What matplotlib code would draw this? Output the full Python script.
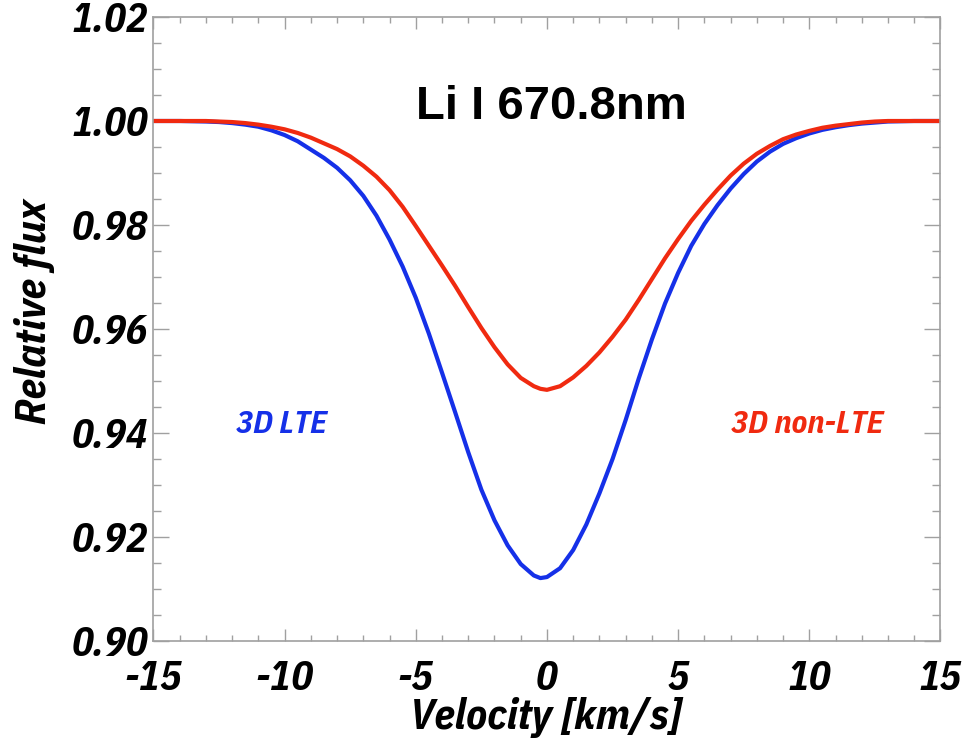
import numpy as np
import matplotlib
matplotlib.use('Agg')
import matplotlib.pyplot as plt
from matplotlib.ticker import MultipleLocator, FormatStrFormatter

plt.rcParams['axes.unicode_minus'] = False

# velocity grid [km/s] and fluxes
velocity = [-15, -14, -13, -12.5, -12, -11.5, -11, -10.5, -10, -9.5, -9, -8.5, -8,
            -7.5, -7, -6.5, -6, -5.5, -5, -4.5, -4, -3.5, -3, -2.5, -2, -1.5, -1,
            -0.5, -0.25, 0, 0.5, 1, 1.5, 2, 2.5, 3, 3.5, 4, 4.5, 5, 5.5, 6, 6.5, 7,
            7.5, 8, 8.5, 9, 9.5, 10, 10.5, 11, 11.5, 12, 12.5, 13, 14, 15]
flux_lte = [1.0000, 1.0000, 0.9999, 0.9998, 0.9996, 0.9993, 0.9989, 0.9982, 0.9973,
            0.9961, 0.9945, 0.9929, 0.9910, 0.9886, 0.9856, 0.9818, 0.9772, 0.9720,
            0.9660, 0.9591, 0.9516, 0.9440, 0.9363, 0.9291, 0.9232, 0.9184, 0.9148,
            0.9126, 0.9121, 0.9123, 0.9140, 0.9175, 0.9224, 0.9284, 0.9350, 0.9425,
            0.9505, 0.9580, 0.9649, 0.9708, 0.9760, 0.9802, 0.9838, 0.9870, 0.9898,
            0.9922, 0.9941, 0.9956, 0.9967, 0.9976, 0.9983, 0.9988, 0.9992, 0.9995,
            0.9997, 0.9999, 1.0000, 1.0000]
flux_nlte = [1.0000, 1.0000, 1.0000, 0.9999, 0.9998, 0.9996, 0.9993, 0.9989, 0.9984,
             0.9977, 0.9968, 0.9957, 0.9946, 0.9932, 0.9914, 0.9893, 0.9867, 0.9835,
             0.9798, 0.9760, 0.9722, 0.9683, 0.9642, 0.9602, 0.9565, 0.9532, 0.9506,
             0.9490, 0.9485, 0.9483, 0.9490, 0.9507, 0.9529, 0.9555, 0.9585, 0.9618,
             0.9656, 0.9696, 0.9736, 0.9773, 0.9808, 0.9839, 0.9868, 0.9895, 0.9918,
             0.9937, 0.9952, 0.9965, 0.9974, 0.9981, 0.9987, 0.9991, 0.9994, 0.9997,
             0.9999, 1.0000, 1.0000, 1.0000]

narrow = ['IBM Plex Sans Condensed', 'DejaVu Sans']
blue = '#1530e8'
red = '#f02a10'
gray = '#a0a0a0'

fig = plt.figure(figsize=(9.65, 7.39), dpi=100)
ax = fig.add_axes([0.159, 0.1326, 0.8156, 0.8444])

ax.plot(velocity, flux_lte, color=blue, lw=3)
ax.plot(velocity, flux_nlte, color=red, lw=3)

ax.set_xlim(-15, 15)
ax.set_ylim(0.90, 1.02)

ax.xaxis.set_major_locator(MultipleLocator(5))
ax.xaxis.set_minor_locator(MultipleLocator(1))
ax.yaxis.set_major_locator(MultipleLocator(0.02))
ax.yaxis.set_minor_locator(MultipleLocator(0.005))
ax.yaxis.set_major_formatter(FormatStrFormatter('%.2f'))
ax.xaxis.set_major_formatter(FormatStrFormatter('%d'))

for s in ax.spines.values():
    s.set_color(gray)
    s.set_linewidth(1.2)

ax.tick_params(axis='both', which='both', direction='in', top=True, right=True,
               color=gray, width=1.0)
ax.tick_params(axis='y', which='major', length=11.5, pad=4)
ax.tick_params(axis='y', which='minor', length=5.8)
ax.tick_params(axis='x', which='major', length=8.6, pad=14)
ax.tick_params(axis='x', which='minor', length=4.3)

for lab in ax.get_xticklabels() + ax.get_yticklabels():
    lab.set_family(narrow)
    lab.set_fontsize(29)
    lab.set_fontweight('bold')
    lab.set_fontstyle('italic')

# axis titles placed in figure coords (x title sits right at the bottom edge)
fig.text(0.566, 0.0135, 'Velocity [km/s]', ha='center', va='baseline', family=narrow,
         fontsize=31, fontweight='bold', fontstyle='italic')
fig.text(0.036, 0.5785, 'Relative flux', rotation=90, ha='center', va='center',
         family=narrow, fontsize=31, fontweight='bold', fontstyle='italic')

ax.text(0.505, 0.8365, 'Li I 670.8nm', transform=ax.transAxes, ha='center', va='baseline',
        family=['Liberation Sans', 'DejaVu Sans'], fontsize=34, fontweight='bold')
ax.text(0.1627, 0.3333, '3D LTE', transform=ax.transAxes, ha='center', va='baseline',
        family=narrow, fontsize=23, fontweight='bold', fontstyle='italic', color=blue)
ax.text(0.831, 0.3333, '3D non-LTE', transform=ax.transAxes, ha='center', va='baseline',
        family=narrow, fontsize=23, fontweight='bold', fontstyle='italic', color=red)

fig.savefig('out.png', dpi=100)
